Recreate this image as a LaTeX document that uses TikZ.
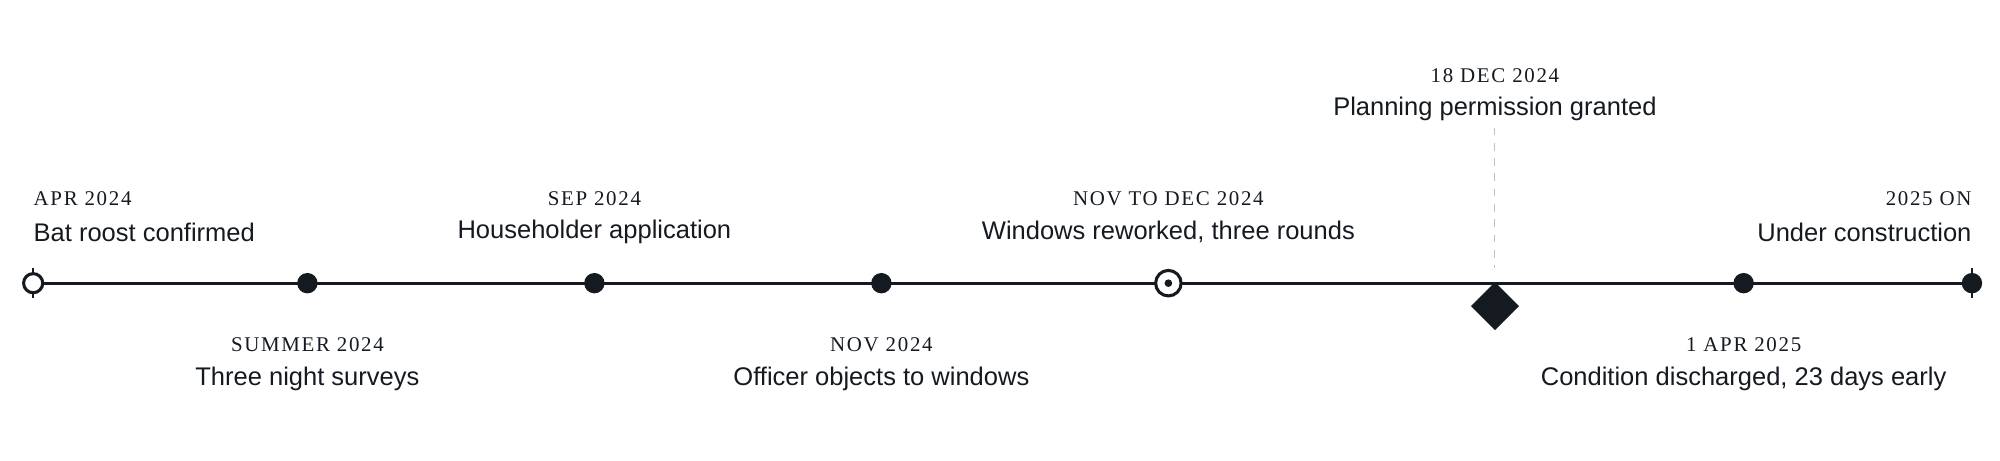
\documentclass[tikz,border=0pt]{standalone}
\usepackage{fontspec}
\setmainfont{Liberation Serif}
\setsansfont{Liberation Sans}
\usetikzlibrary{shapes.geometric}
\definecolor{ink}{HTML}{151A21}
\tikzset{
  date/.style={font=\rmfamily\fontsize{8.2}{9}\selectfont, text=ink, inner sep=0pt},
  title/.style={font=\sffamily\fontsize{10}{12}\selectfont, text=ink, inner sep=0pt},
  dot/.style={circle, fill=ink, inner sep=0pt, minimum size=8pt},
}
\newcommand{\spaced}[1]{\addfontfeatures{LetterSpace=8}#1}
\begin{document}
\begin{tikzpicture}[x=0.5pt,y=-0.5pt]
	\useasboundingbox (0,0) rectangle (1568,361);

	%the line
	\coordinate (start) at (26,222);
	\coordinate (stop) at (1546,222);
	\draw[ink, line width=1.3pt] (start) -- (stop);

	%markers
	\draw[ink, line width=1pt] (26,210) -- (26,234);
	\node[circle, draw=ink, fill=white, line width=1.2pt, inner sep=0pt, minimum size=7.5pt] (apr) at (26,222) {};
	\node[dot] (summer) at (241,222) {};
	\node[dot] (sep) at (466,222) {};
	\node[dot] (nov) at (691,222) {};
	\node[circle, draw=ink, fill=white, line width=1.2pt, inner sep=0pt, minimum size=10pt] (novdec) at (916,222) {};
	\node[circle, fill=ink, inner sep=0pt, minimum size=3pt] at (novdec) {};
	\node[diamond, fill=ink, inner sep=0pt, minimum size=19pt] (dec) at (1172,240) {};
	\node[dot] (aprb) at (1367,222) {};
	\draw[ink, line width=1pt] (1546,210) -- (1546,234);
	\node[dot] (on) at (1546,222) {};

	%labels above
	\node[date, anchor=west] at (26,156) {\spaced{APR 2024}};
	\node[title, anchor=west] at (26,182) {Bat roost confirmed};
	\node[date] at (466,156) {\spaced{SEP 2024}};
	\node[title] at (466,182) {Householder application};
	\node[date] at (916,156) {\spaced{NOV TO DEC 2024}};
	\node[title] at (916,182) {Windows reworked, three rounds};
	\node[date, anchor=east] at (1546,156) {\spaced{2025 ON}};
	\node[title, anchor=east] at (1546,182) {Under construction};

	%labels below
	\node[date] at (241,270) {\spaced{SUMMER 2024}};
	\node[title] at (241,297) {Three night surveys};
	\node[date] at (691,270) {\spaced{NOV 2024}};
	\node[title] at (691,297) {Officer objects to windows};
	\node[date] at (1367,270) {\spaced{1 APR 2025}};
	\node[title] at (1367,297) {Condition discharged, 23 days early};

	%the decision
	\node[date] at (1172,59) {\spaced{18 DEC 2024}};
	\node[title] (granted) at (1172,85) {Planning permission granted};
	\coordinate (tip) at (1172,210);
	\draw[gray!50, dashed, line width=0.4pt] (1172,100) -- (tip);

\end{tikzpicture}
\end{document}
